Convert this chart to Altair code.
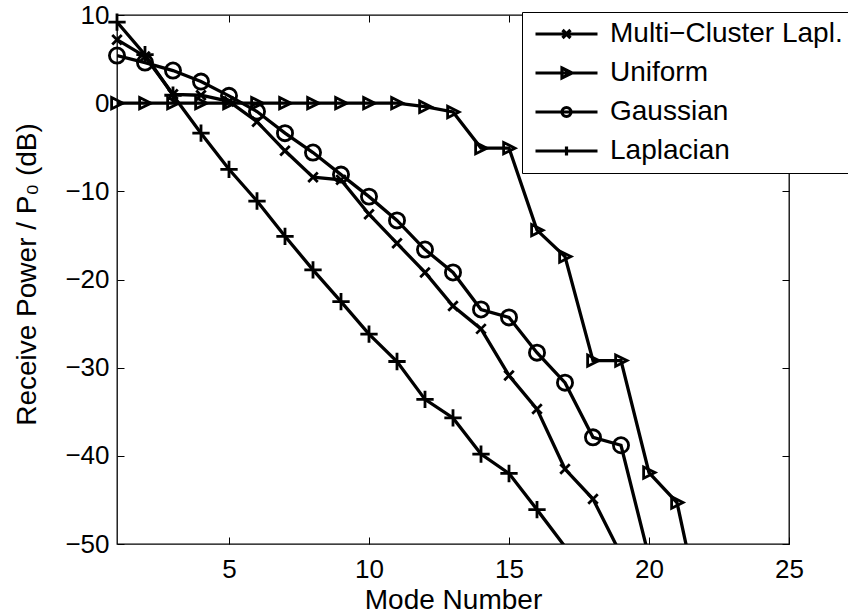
import altair as alt
import pandas as pd

# ---------------- data ----------------
modes = list(range(1, 23))
series_names = ["Multi\u2212Cluster Lapl.", "Uniform", "Gaussian", "Laplacian"]

multi_cluster = [7.2, 5.3, 1.0, 0.9, 0.2, -2.1, -5.4, -8.4, -8.7, -12.6,
                 -15.9, -19.2, -23.0, -25.6, -30.9, -34.7, -41.5, -44.9, -51.2]
uniform = [0, 0, 0, 0, 0, 0, 0, 0, 0, 0, 0, -0.4, -1.0, -5.1, -5.1,
           -14.4, -17.4, -29.2, -29.2, -41.9, -45.3, -60.0]
gaussian = [5.4, 4.6, 3.7, 2.45, 0.83, -0.95, -3.4, -5.6, -8.1, -10.6,
            -13.3, -16.6, -19.2, -23.4, -24.3, -28.3, -31.7, -37.9, -38.8, -51.5]
laplacian = [9.2, 5.5, 0.9, -3.4, -7.5, -11.1, -15.1, -18.9, -22.5, -26.2,
             -29.3, -33.6, -35.7, -39.8, -42.0, -46.1, -50.3]

x_ticks = [5, 10, 15, 20, 25]
y_ticks = [-50, -40, -30, -20, -10, 0, 10]
x_domain = [1, 25]
y_domain = [-50, 10]

rows = []
for name, vals in zip(series_names, [multi_cluster, uniform, gaussian, laplacian]):
    for m, v in zip(modes, vals):
        rows.append({"series": name, "mode": m, "power": v})
df = pd.DataFrame(rows)

# ---------------- styling ----------------
W, H = 672, 529
FONT = "Liberation Sans"

# plot markers (custom paths, scaled by sqrt(size)/2)
marker_paths = [
    "M-1,-1L1,1M-1,1L1,-1",                 # x
    "M-0.85,-0.9L0.95,0L-0.85,0.9Z",        # right triangle
    "circle",                               # circle
    "M-1,0L1,0M0,-1L0,1",                   # +
]
marker_sizes = [90, 300, 115, 120]

# legend symbols: line segment with small marker
ln = "M-0.85,0L5.35,0"
legend_paths = [
    ln + "M1.85,-0.4L2.65,0.4M1.85,0.4L2.65,-0.4",
    ln + "M1.8,-0.5L2.8,0L1.8,0.5Z",
    ln + "M1.8,0A0.45,0.45,0,1,1,2.7,0A0.45,0.45,0,1,1,1.8,0",
    ln + "M2.25,-0.45L2.25,0.45",
]

xscale = alt.Scale(domain=x_domain, nice=False, zero=False)
yscale = alt.Scale(domain=y_domain, nice=False, zero=False)

def tick_axis(orient, offset, values):
    return alt.Axis(orient=orient, offset=offset, values=values, labels=False,
                    domain=False, ticks=True, tickSize=7, tickColor="black",
                    tickWidth=1, grid=False, title=None)

base = alt.Chart(df)

lines = base.mark_line(color="black", strokeWidth=3.3, clip=True).encode(
    x=alt.X("mode:Q", scale=xscale,
            axis=alt.Axis(orient="bottom", values=x_ticks, title="Mode Number",
                          ticks=False, tickSize=0, domain=False, grid=False,
                          labelPadding=12, labelFontSize=26, labelFont=FONT,
                          labelColor="black", labelFlush=False, labelOverlap=False,
                          titleFont=FONT, titleFontSize=28, titleFontWeight="normal",
                          titleColor="black", titleBaseline="alphabetic", titleY=64)),
    y=alt.Y("power:Q", scale=yscale,
            axis=alt.Axis(orient="left", values=y_ticks,
                          title="Receive Power / P\u2080 (dB)",
                          ticks=False, tickSize=0, domain=False, grid=False,
                          labelPadding=8, labelFontSize=26, labelFont=FONT,
                          labelColor="black", labelFlush=False, labelOverlap=False,
                          titleFont=FONT, titleFontSize=28, titleFontWeight="normal",
                          titleColor="black", titleBaseline="alphabetic",
                          titleX=-82, titleY=259, titleAlign="center")),
    detail="series:N",
    order="mode:Q",
)

points = base.mark_point(filled=False, strokeWidth=2.8, color="black", opacity=1).encode(
    x=alt.X("mode:Q", scale=xscale, axis=tick_axis("top", -H, x_ticks)),
    y=alt.Y("power:Q", scale=yscale, axis=tick_axis("right", -W, y_ticks)),
    shape=alt.Shape("series:N", scale=alt.Scale(domain=series_names, range=marker_paths),
                    legend=None),
    size=alt.Size("series:N", scale=alt.Scale(domain=series_names, range=marker_sizes),
                  legend=None),
).transform_filter(alt.datum.power >= -50)

ticks2 = base.mark_point(opacity=0).encode(
    x=alt.X("mode:Q", scale=xscale, axis=tick_axis("bottom", -H, x_ticks)),
    y=alt.Y("power:Q", scale=yscale, axis=tick_axis("left", -W, y_ticks)),
).transform_filter(alt.datum.power >= -50)

legend_layer = base.mark_point(filled=False, strokeWidth=3, color="black",
                               size=400, clip=True).encode(
    x=alt.value(-3000),
    y=alt.value(-3000),
    shape=alt.Shape("series:N",
                    scale=alt.Scale(domain=series_names, range=legend_paths),
                    legend=alt.Legend(orient="none", legendX=405, legendY=-3,
                                      title=None, labelFont=FONT, labelFontSize=28,
                                      labelColor="black", labelOffset=52,
                                      labelLimit=500, rowPadding=11, padding=8,
                                      symbolSize=400, symbolStrokeWidth=3.2,
                                      symbolStrokeColor="black", symbolOpacity=1,
                                      strokeColor="black", fillColor="white")),
)

chart = alt.layer(lines, points, ticks2, legend_layer).resolve_scale(
    shape="independent", size="independent"
).resolve_axis(
    x="independent", y="independent"
).properties(
    width=W, height=H,
    autosize=alt.AutoSizeParams(type="none"),
    padding={"left": 117, "top": 15, "right": 59, "bottom": 72},
    background="white",
).configure_view(
    stroke="black", strokeWidth=1.3
)

chart.save("out.html", embed_options={"renderer": "svg", "actions": False})
